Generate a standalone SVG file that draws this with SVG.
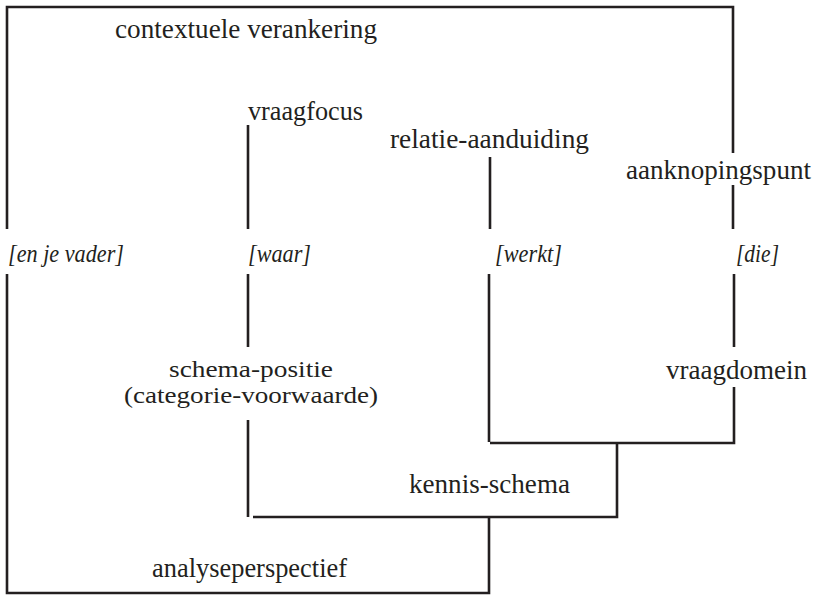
<svg xmlns="http://www.w3.org/2000/svg" width="819" height="595" viewBox="0 0 819 595">
<style>
.t{font-family:'Liberation Serif','DejaVu Serif',serif;font-size:27px;fill:#231f20}
.s{font-family:'Liberation Serif','DejaVu Serif',serif;font-size:24px;fill:#231f20}
.i{font-family:'Liberation Serif','DejaVu Serif',serif;font-size:25px;font-style:italic;fill:#231f20}
.c{fill:none;stroke:#231f20;stroke-width:2.6;stroke-linecap:butt;stroke-linejoin:miter}
</style>
<rect width="819" height="595" fill="#fff"/>
<g id="connectors" class="c">
<path d="M7,229 V7 H733 V153"/>
<path d="M7,274 V593 H489 V518"/>
<path d="M248,125 V229"/>
<path d="M248,274 V347"/>
<path d="M248,420 V517"/>
<path d="M253,517 H617 V443"/>
<path d="M490,443 H734 V387"/>
<path d="M734,347 V274"/>
<path d="M733,229 V185"/>
<path d="M490,157 V229"/>
<path d="M489,274 V442"/>
</g>
<g id="contextuele-verankering"><text class="t" x="115" y="38" textLength="262" lengthAdjust="spacingAndGlyphs">contextuele verankering</text></g>
<g id="vraagfocus"><text class="t" x="248" y="120" textLength="115" lengthAdjust="spacingAndGlyphs">vraagfocus</text></g>
<g id="relatie-aanduiding"><text class="t" x="390" y="148" textLength="199" lengthAdjust="spacingAndGlyphs">relatie-aanduiding</text></g>
<g id="aanknopingspunt"><text class="t" x="626" y="179" textLength="185" lengthAdjust="spacingAndGlyphs">aanknopingspunt</text></g>
<g id="en-je-vader"><text class="i" x="8" y="262" textLength="116" lengthAdjust="spacingAndGlyphs">[en je vader]</text></g>
<g id="waar"><text class="i" x="248" y="262" textLength="63" lengthAdjust="spacingAndGlyphs">[waar]</text></g>
<g id="werkt"><text class="i" x="495" y="262" textLength="67" lengthAdjust="spacingAndGlyphs">[werkt]</text></g>
<g id="die"><text class="i" x="736" y="262" textLength="43" lengthAdjust="spacingAndGlyphs">[die]</text></g>
<g id="schema-positie">
<text class="s" x="169" y="377" textLength="164" lengthAdjust="spacingAndGlyphs">schema-positie</text>
<text class="s" x="124" y="403" textLength="254" lengthAdjust="spacingAndGlyphs">(categorie-voorwaarde)</text>
</g>
<g id="vraagdomein"><text class="t" x="666" y="379" textLength="141" lengthAdjust="spacingAndGlyphs">vraagdomein</text></g>
<g id="kennis-schema"><text class="t" x="409" y="493" textLength="161" lengthAdjust="spacingAndGlyphs">kennis-schema</text></g>
<g id="analyseperspectief"><text class="t" x="152" y="577" textLength="195" lengthAdjust="spacingAndGlyphs">analyseperspectief</text></g>
</svg>
